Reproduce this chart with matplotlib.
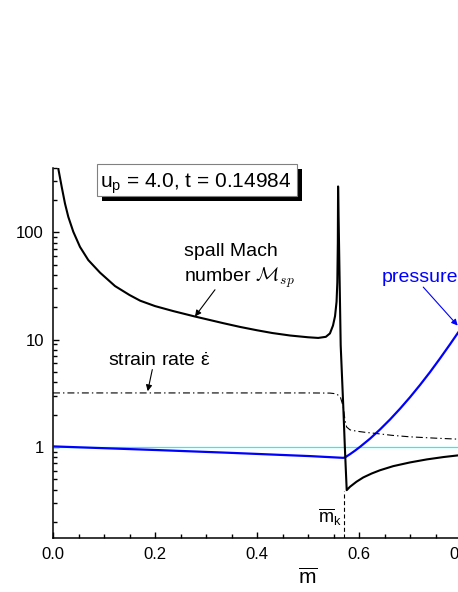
import matplotlib
matplotlib.use("Agg")
import matplotlib.pyplot as plt
from matplotlib.patches import Rectangle
from matplotlib.ticker import FixedLocator, MultipleLocator, LogLocator, NullFormatter

plt.rcParams['font.family'] = ['Liberation Sans', 'DejaVu Sans']
plt.rcParams['mathtext.fontset'] = 'custom'
plt.rcParams['mathtext.rm'] = 'Liberation Sans'
plt.rcParams['mathtext.it'] = 'Liberation Sans:italic'
plt.rcParams['mathtext.bf'] = 'Liberation Sans:bold'
plt.rcParams['lines.scale_dashes'] = False

# ---- data ----
mach_m = [0.0085, 0.0104, 0.0171, 0.0235, 0.030, 0.0398, 0.0529, 0.0692, 0.0922,
          0.1216, 0.15, 0.171, 0.2, 0.236, 0.278, 0.3, 0.334, 0.367, 0.4, 0.43,
          0.465, 0.5, 0.52, 0.535, 0.543, 0.549, 0.553, 0.556, 0.5575, 0.5585,
          0.559, 0.5641, 0.5692, 0.5725, 0.5759, 0.5824, 0.595, 0.6084, 0.625,
          0.641, 0.667, 0.7, 0.733, 0.766, 0.8, 0.83]
mach_v = [480, 391, 264, 185, 139, 101, 73, 55, 42,
          31.5, 26, 23, 20.5, 18.4, 16.4, 15.5, 14.2, 13.1, 12.2, 11.5,
          10.9, 10.5, 10.35, 10.6, 11.4, 13.5, 16.5, 22.5, 34, 80,
          267, 8.83, 2.36, 0.93, 0.395, 0.425, 0.473, 0.519, 0.565,
          0.605, 0.661, 0.716, 0.764, 0.804, 0.839, 0.86]

strain_m = [0.0, 0.1, 0.2, 0.3, 0.4, 0.5, 0.543, 0.5556, 0.5634, 0.5692, 0.5725,
            0.5758, 0.5824, 0.595, 0.61, 0.635, 0.665, 0.7, 0.75, 0.794, 0.83]
strain_v = [3.18, 3.18, 3.18, 3.18, 3.18, 3.18, 3.17, 3.12, 2.92, 2.36, 1.77,
            1.53, 1.44, 1.40, 1.37, 1.33, 1.28, 1.24, 1.205, 1.18, 1.16]

press_m = [0.0, 0.2, 0.347, 0.504, 0.569, 0.5725, 0.5824, 0.5922, 0.602, 0.6216,
           0.6412, 0.6608, 0.6804, 0.7, 0.7196, 0.7392, 0.7588, 0.7784, 0.7941, 0.8176]
press_v = [1.01, 0.935, 0.88, 0.82, 0.79, 0.797, 0.855, 0.922, 1.0, 1.192,
           1.452, 1.798, 2.266, 2.90, 3.77, 4.97, 6.66, 9.02, 11.57, 16.2]

ref_m = [0.0, 1.0]
ref_v = [1.0, 1.0]

m_k = 0.5715
m_k_low = 0.39

xticks = [0.0, 0.2, 0.4, 0.6, 0.8, 1.0]
xtick_labels = ['0.0', '0.2', '0.4', '0.6', '0.8', '1.0']
yticks = [1, 10, 100]
ytick_labels = ['1', '10', '100']
title_text = r'u$_\mathrm{p}$ = 4.0, t = 0.14984'

# ---- figure ----
W, H = 458, 592
fig = plt.figure(figsize=(W / 100, H / 100), dpi=100)

def fx(x):
    return x / W

def fy(y):
    return 1 - y / H

ax_left, ax_right, ax_top, ax_bottom = 53, 563, 167.6, 538
ax = fig.add_axes([fx(ax_left), fy(ax_bottom), (ax_right - ax_left) / W,
                   (ax_bottom - ax_top) / H])
ax.set_yscale('log')
ax.set_xlim(0, 1.0)
ax.set_ylim(0.1415, 400)

ax.plot(ref_m, ref_v, color='#00ffff', lw=0.9, zorder=2)
ax.plot(press_m, press_v, color='#0000ff', lw=1.6, zorder=3)
ax.plot(strain_m, strain_v, color='black', lw=0.8, dashes=(5, 2.2, 1, 2.2), zorder=4)
ax.vlines(m_k, 0.1415, m_k_low, colors='black', lw=0.8, linestyles=(0, (2.9, 1.9)), zorder=4)
ax.plot(mach_m, mach_v, color='black', lw=1.5, zorder=5)

for s in ['top', 'right']:
    ax.spines[s].set_visible(False)
for s in ['left', 'bottom']:
    ax.spines[s].set_linewidth(1.1)

ax.xaxis.set_major_locator(FixedLocator(xticks))
ax.set_xticklabels(xtick_labels)
ax.xaxis.set_minor_locator(MultipleLocator(0.05))
ax.yaxis.set_major_locator(FixedLocator(yticks))
ax.set_yticklabels(ytick_labels)
ax.yaxis.set_minor_locator(LogLocator(base=10, subs=[2, 3, 4, 5, 6, 7, 8, 9]))
ax.yaxis.set_minor_formatter(NullFormatter())
ax.tick_params(which='major', direction='in', length=4.3, width=1.0, labelsize=12, pad=6.5)
ax.tick_params(which='minor', direction='in', length=2.6, width=1.0)

ax.set_xlabel(r'$\overline{\mathrm{m}}$', fontsize=15, labelpad=4)

# annotations
ax.text(fx(184), fy(256), 'spall Mach', transform=fig.transFigure, fontsize=14,
        ha='left', va='baseline')
ax.text(fx(184), fy(282), r'number $\mathcal{M}_{sp}$', transform=fig.transFigure,
        fontsize=14, ha='left', va='baseline', math_fontfamily='cm')
ax.annotate('', xy=(0.2784, 16.4), xytext=(0.3176, 29.1),
            arrowprops=dict(arrowstyle='-|>', lw=0.8, color='black',
                            mutation_scale=9, shrinkA=0, shrinkB=0))

ax.text(fx(108), fy(366), r'strain rate $\dot{\mathrm{\varepsilon}}$', transform=fig.transFigure,
        fontsize=14, ha='left', va='baseline')
ax.annotate('', xy=(0.1857, 3.3), xytext=(0.1947, 5.25),
            arrowprops=dict(arrowstyle='-|>', lw=0.8, color='black',
                            mutation_scale=9, shrinkA=0, shrinkB=0))

ax.text(fx(382), fy(282), 'pressure', transform=fig.transFigure, fontsize=14,
        ha='left', va='baseline', color='#0000ff')
ax.annotate('', xy=(0.7935, 13.5), xytext=(0.726, 30.8),
            arrowprops=dict(arrowstyle='-|>', lw=0.8, color='#0000ff',
                            mutation_scale=9, shrinkA=0, shrinkB=0))

ax.text(fx(318), fy(523), r'$\overline{\mathrm{m}}_\mathrm{k}$', transform=fig.transFigure,
        fontsize=13, ha='left', va='baseline')

# title box with shadow
fig.patches.append(Rectangle((fx(102), fy(201)), (302 - 102) / W, (201 - 169) / H,
                             transform=fig.transFigure, facecolor='black',
                             edgecolor='none', zorder=1))
fig.patches.append(Rectangle((fx(97), fy(196)), (297 - 97) / W, (196 - 164) / H,
                             transform=fig.transFigure, facecolor='white',
                             edgecolor='#808080', lw=0.8, zorder=2))
fig.text(fx(100), fy(188), title_text, fontsize=15, ha='left', va='baseline', zorder=3)

fig.savefig('out.png', dpi=100)
